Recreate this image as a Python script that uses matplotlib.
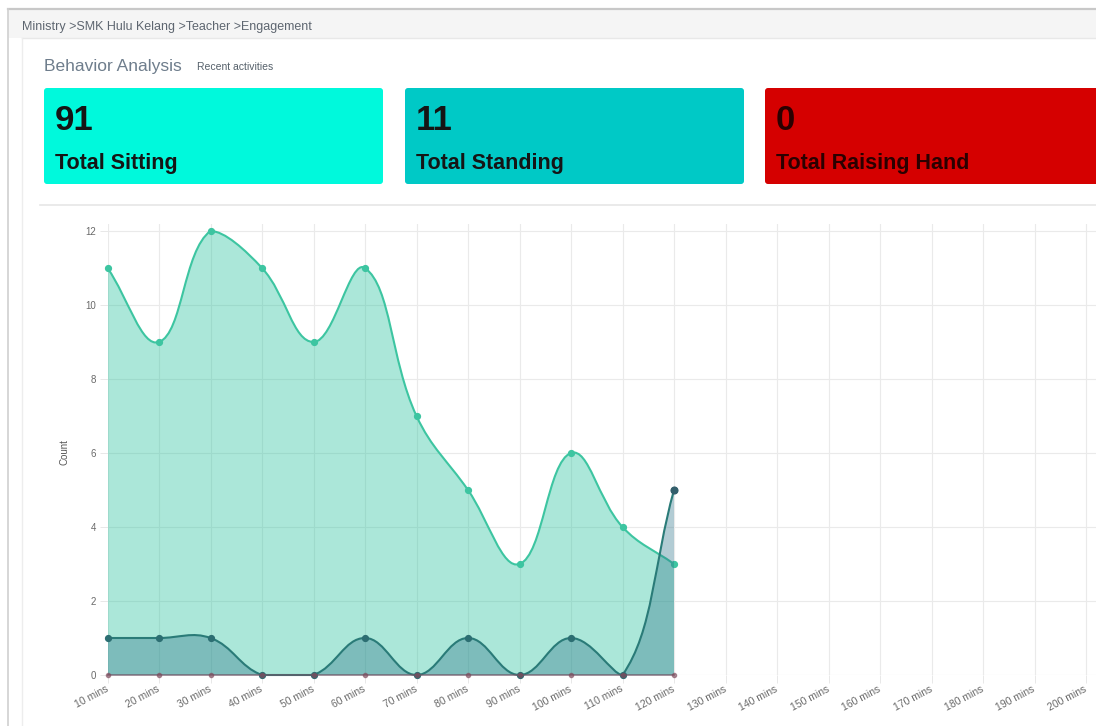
import numpy as np
import matplotlib
matplotlib.use("Agg")
import matplotlib.pyplot as plt
from matplotlib.path import Path
from matplotlib.patches import PathPatch, FancyBboxPatch, Rectangle

plt.rcParams['font.family'] = ['Liberation Sans', 'DejaVu Sans']

# ---- data ----
minutes = [10, 20, 30, 40, 50, 60, 70, 80, 90, 100, 110, 120,
           130, 140, 150, 160, 170, 180, 190, 200]
x_labels = [f"{m} mins" for m in minutes]
sitting = [11, 9, 12, 11, 9, 11, 7, 5, 3, 6, 4, 3]
standing = [1, 1, 1, 0, 0, 1, 0, 1, 0, 1, 0, 5]
raising = [0, 0, 0, 0, 0, 0, 0, 0, 0, 0, 0, 0]
y_ticks = [0, 2, 4, 6, 8, 10, 12]

cards = [
    ("91", "Total Sitting", "#00F9DC", "#151515"),
    ("11", "Total Standing", "#00C9C6", "#151515"),
    ("0", "Total Raising Hand", "#D50000", "#2B0000"),
]
breadcrumb = "Ministry >SMK Hulu Kelang >Teacher >Engagement"

W, H = 1096, 726
fig = plt.figure(figsize=(W / 100, H / 100), dpi=100)

# page overlay in pixel coordinates
bg = fig.add_axes([0, 0, 1, 1], zorder=0)
bg.set_xlim(0, W)
bg.set_ylim(H, 0)
bg.axis("off")

bg.add_patch(Rectangle((8, 9), W, 29, facecolor="#F5F5F5", edgecolor="none"))
bg.plot([8, W], [9, 9], color="#C8C8C8", lw=1.6)
bg.plot([8, 8], [9, H], color="#D0D0D0", lw=1.2)
bg.plot([22, W], [38, 38], color="#E8E8E8", lw=1)
bg.plot([22, 22], [38, H], color="#EDEDED", lw=1)
bg.plot([40, W], [205, 205], color="#E6E6E6", lw=1.2)

bg.text(22, 27, breadcrumb, fontsize=9, color="#5E6670", va="center")
bg.text(44, 66, "Behavior Analysis", fontsize=12.5, color="#6E7D8C", va="center")
bg.text(197, 67, "Recent activities", fontsize=7.5, color="#55606A", va="center")

card_x = [44, 405, 765]
for (num, label, col, tcol), cx in zip(cards, card_x):
    bg.add_patch(FancyBboxPatch((cx, 88), 339, 96,
                                boxstyle="round,pad=0,rounding_size=3",
                                facecolor=col, edgecolor="none"))
    bg.text(cx + 11, 121, num, fontsize=25, fontweight="bold", color=tcol, va="center")
    bg.text(cx + 11, 164, label, fontsize=15.5, fontweight="bold", color=tcol, va="center")

bg.text(64, 452, "Count", fontsize=7, color="#555555", rotation=90,
        ha="center", va="center")

# ---- chart ----
left_px, right_px = 107.5, W
y0_px, y12_px = 675, 231
ax = fig.add_axes([left_px / W, (H - y0_px) / H, (right_px - left_px) / W,
                   (y0_px - y12_px) / H * 12.2 / 12], zorder=1)
ax.patch.set_alpha(0)
px_per_min = 51.5 / 10
xmax = 10 + (right_px - left_px) / px_per_min
ax.set_xlim(10, xmax)
ax.set_ylim(0, 12.2)
sy = (y0_px - y12_px) / 12


def spline_path(xs, ys, t=0.4, ymin=0, ymax=12):
    n = len(xs)
    prev_cp, next_cp = [], []
    for i in range(n):
        p = (xs[max(i - 1, 0)], ys[max(i - 1, 0)])
        c = (xs[i], ys[i])
        nx = (xs[min(i + 1, n - 1)], ys[min(i + 1, n - 1)])
        d01 = np.hypot((c[0] - p[0]) * px_per_min, (c[1] - p[1]) * sy)
        d12 = np.hypot((nx[0] - c[0]) * px_per_min, (nx[1] - c[1]) * sy)
        tot = d01 + d12
        s01 = d01 / tot if tot else 0
        s12 = d12 / tot if tot else 0
        fa, fb = t * s01, t * s12
        pc = [c[0] - fa * (nx[0] - p[0]), c[1] - fa * (nx[1] - p[1])]
        ncp = [c[0] + fb * (nx[0] - p[0]), c[1] + fb * (nx[1] - p[1])]
        pc[1] = min(max(pc[1], ymin), ymax)
        ncp[1] = min(max(ncp[1], ymin), ymax)
        prev_cp.append(pc)
        next_cp.append(ncp)
    verts = [(xs[0], ys[0])]
    codes = [Path.MOVETO]
    for i in range(n - 1):
        verts += [tuple(next_cp[i]), tuple(prev_cp[i + 1]), (xs[i + 1], ys[i + 1])]
        codes += [Path.CURVE4] * 3
    return verts, codes


def draw_series(xs, ys, line_col, fill_col, fill_alpha, pt_col, z, ms=4.2, lw=1.5):
    verts, codes = spline_path(xs, ys)
    fverts = verts + [(xs[-1], 0), (xs[0], 0), (xs[0], ys[0])]
    fcodes = codes + [Path.LINETO, Path.LINETO, Path.CLOSEPOLY]
    ax.add_patch(PathPatch(Path(fverts, fcodes), facecolor=fill_col,
                           alpha=fill_alpha, edgecolor="none", zorder=z))
    ax.add_patch(PathPatch(Path(verts, codes), facecolor="none",
                           edgecolor=line_col, lw=lw, zorder=z + 0.5,
                           clip_on=False))
    ax.plot(xs, ys, "o", color=pt_col, ms=ms, zorder=z + 0.6, clip_on=False)


xs = minutes[:len(sitting)]
draw_series(xs, sitting, "#3DC5A1", "#2EC4A0", 0.4, "#3DC5A1", 2)
draw_series(xs, standing, "#2A7B78", "#2C7288", 0.36, "#2C6E72", 3)
ax.plot(xs[-1], standing[-1], "o", color="#345F6C", ms=4.8, zorder=4, clip_on=False)
ax.plot(xs, raising, color="#6E5566", lw=1.3, alpha=0.7, zorder=4, clip_on=False)
ax.plot(xs, raising, "o", color="#7E4A5C", ms=3, alpha=0.6, zorder=4, clip_on=False)

ax.set_xticks(minutes)
ax.set_xticklabels(x_labels, rotation=28, ha="right", va="center",
                   rotation_mode="anchor")
ax.set_yticks(y_ticks)
ax.set_yticklabels([str(v) for v in y_ticks])
ax.grid(True, color="#EAEAEA", lw=0.8)
ax.set_axisbelow(True)
for s in ax.spines.values():
    s.set_visible(False)
ax.tick_params(axis="x", length=5.5, width=0.7, color="#E8E8E8",
               labelcolor="#6A6A6A", labelsize=7.5, pad=4)
ax.tick_params(axis="y", length=5.5, width=0.7, color="#E8E8E8",
               labelcolor="#6A6A6A", labelsize=7, pad=2.5)

fig.savefig("out.png", dpi=100)
